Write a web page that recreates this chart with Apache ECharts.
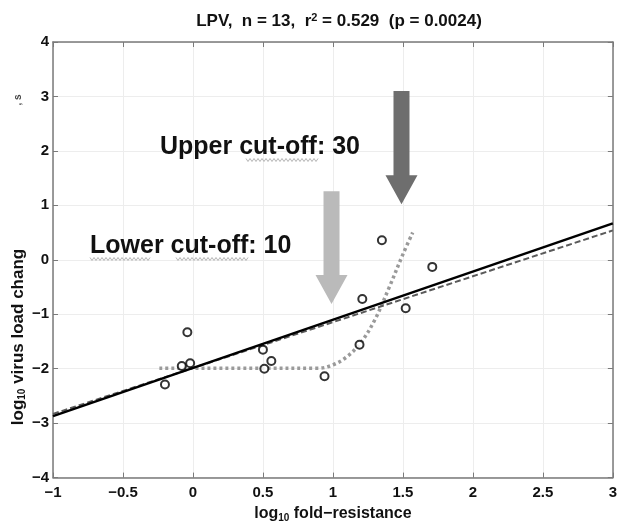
<!DOCTYPE html>
<html>
<head>
<meta charset="utf-8">
<title>LPV fold-resistance vs virus load change</title>
<script src="https://cdn.jsdelivr.net/npm/echarts@6/dist/echarts.min.js"></script>
<style>
  html, body { margin: 0; padding: 0; background: #ffffff; }
  #chart { width: 620px; height: 528px; }
</style>
</head>
<body>
<div id="chart"></div>
<script>
// Observed isolates: log10 fold-resistance vs log10 virus load change
const foldResistance = [-0.20, -0.04, -0.08, -0.02, 0.50, 0.56, 0.51, 0.94, 1.19, 1.21, 1.52, 1.35, 1.71];
const loadChange     = [-2.29, -1.33, -1.95, -1.90, -1.65, -1.86, -2.00, -2.14, -1.56, -0.72, -0.89, 0.36, -0.13];

// Linear fits (end points across the axis range)
const fitX      = [-1, 3];
const fitSolid  = [-2.87, 0.67];
const fitDashed = [-2.83, 0.54];

// Cut-off (threshold) response curve
const curveX = [-0.24, 0.00, 0.50, 0.90, 1.00, 1.10, 1.20, 1.30, 1.40, 1.50, 1.57];
const curveY = [-1.99, -1.99, -1.99, -1.99, -1.93, -1.78, -1.52, -1.10, -0.52, 0.10, 0.50];

// Cut-off markers: x position, arrow top, arrow tip (data units)
const upperArrow = [1.49, 3.10, 1.02];
const lowerArrow = [0.99, 1.26, -0.81];

const xTicks = { min: -1, max: 3, interval: 0.5 };
const yTicks = { min: -4, max: 4, interval: 1 };

const zip = (a, b) => a.map((v, i) => [v, b[i]]);
const minus = v => String(v).replace('-', '\u2212');

const font = 'Liberation Sans, Arial, Helvetica, sans-serif';
const axisGrey = '#7a7a7a';

function arrowItem(params, api) {
  const top = api.coord([api.value(0), api.value(1)]);
  const tip = api.coord([api.value(0), api.value(2)]);
  const shaftHalf = 8, headHalf = 16, headLen = 29;
  const x = tip[0];
  const neck = tip[1] - headLen;
  return {
    type: 'polygon',
    shape: {
      points: [
        [x - shaftHalf, top[1]], [x + shaftHalf, top[1]],
        [x + shaftHalf, neck], [x + headHalf, neck],
        [x, tip[1]],
        [x - headHalf, neck], [x - shaftHalf, neck]
      ]
    },
    style: { fill: api.value(3) === 1 ? '#6e6e6e' : '#bababa' }
  };
}

// Wavy spell-check style underline beneath a word
function squiggle(x0, x1, y) {
  const pts = [];
  for (let x = x0, k = 0; x <= x1; x += 2, k++) pts.push([x, y + (k % 2 ? 1.5 : -1.5)]);
  return {
    type: 'polyline', z: 99, silent: true,
    shape: { points: pts },
    style: { stroke: '#b5b5b5', lineWidth: 1, fill: null }
  };
}

const chart = echarts.init(document.getElementById('chart'), null, { renderer: 'canvas' });

chart.setOption({
  backgroundColor: '#ffffff',
  animation: false,
  title: {
    text: 'LPV,  n = 13,  r{sup|2} = 0.529  (p = 0.0024)',
    left: 334,
    top: 7,
    textAlign: 'center',
    textStyle: {
      fontFamily: font,
      fontSize: 17,
      fontWeight: 'bold',
      color: '#111',
      rich: {
        sup: { fontSize: 11, fontWeight: 'bold', color: '#111', verticalAlign: 'top', padding: [0, 0, 8, 0] }
      }
    }
  },
  grid: { left: 53, right: 5, top: 42, bottom: 44 },
  xAxis: [{
    type: 'value',
    min: xTicks.min, max: xTicks.max, interval: xTicks.interval,
    name: 'log{sub|10} fold\u2212resistance',
    nameLocation: 'middle',
    nameGap: 23,
    nameTextStyle: {
      fontFamily: font, fontSize: 16, fontWeight: 'bold', color: '#111',
      rich: { sub: { fontSize: 10, fontWeight: 'bold', color: '#111', verticalAlign: 'bottom', padding: [9, 0, 0, 0] } }
    },
    axisLine: { show: true, onZero: false, lineStyle: { color: axisGrey, width: 1.5 } },
    axisTick: { show: true, inside: true, length: 5, lineStyle: { color: axisGrey } },
    axisLabel: { formatter: minus, margin: 8, fontFamily: font, fontSize: 15, fontWeight: 'bold', color: '#111' },
    splitLine: { show: true, lineStyle: { color: '#ededed', width: 1 } }
  }, {
    type: 'value', position: 'top',
    min: xTicks.min, max: xTicks.max, interval: xTicks.interval,
    axisLine: { show: true, onZero: false, lineStyle: { color: axisGrey, width: 1.5 } },
    axisTick: { show: true, inside: true, length: 5, lineStyle: { color: axisGrey } },
    axisLabel: { show: false },
    splitLine: { show: false }
  }],
  yAxis: [{
    type: 'value',
    min: yTicks.min, max: yTicks.max, interval: yTicks.interval,
    axisLine: { show: true, onZero: false, lineStyle: { color: axisGrey, width: 1.5 } },
    axisTick: { show: true, inside: true, length: 5, lineStyle: { color: axisGrey } },
    axisLabel: { formatter: minus, margin: 4, fontFamily: font, fontSize: 15, fontWeight: 'bold', color: '#111' },
    splitLine: { show: true, lineStyle: { color: '#ededed', width: 1 } }
  }, {
    type: 'value', position: 'right',
    min: yTicks.min, max: yTicks.max, interval: yTicks.interval,
    axisLine: { show: true, onZero: false, lineStyle: { color: axisGrey, width: 1.5 } },
    axisTick: { show: true, inside: true, length: 5, lineStyle: { color: axisGrey } },
    axisLabel: { show: false },
    splitLine: { show: false }
  }],
  series: [
    {
      name: 'cut-off markers',
      type: 'custom',
      renderItem: arrowItem,
      data: [[...upperArrow, 1], [...lowerArrow, 0]],
      z: 1,
      silent: true
    },
    {
      name: 'threshold curve',
      type: 'line',
      data: zip(curveX, curveY),
      smooth: 0.35,
      showSymbol: false,
      lineStyle: { color: '#9a9a9a', width: 3.5, type: [3, 3], cap: 'butt' },
      z: 2
    },
    {
      name: 'fit (dashed)',
      type: 'line',
      data: zip(fitX, fitDashed),
      showSymbol: false,
      lineStyle: { color: '#5a5a5a', width: 2, type: [6, 3] },
      z: 3
    },
    {
      name: 'fit',
      type: 'line',
      data: zip(fitX, fitSolid),
      showSymbol: false,
      lineStyle: { color: '#000000', width: 2.5 },
      z: 4
    },
    {
      name: 'isolates',
      type: 'scatter',
      data: zip(foldResistance, loadChange),
      symbol: 'circle',
      symbolSize: 8,
      itemStyle: { color: '#ffffff', borderColor: '#000000', borderWidth: 2 },
      z: 5
    }
  ],
  graphic: [
    {
      type: 'text', z: 100,
      x: 18, y: 337,
      rotation: Math.PI / 2,
      style: {
        text: 'log{sub|10} virus load chang',
        align: 'center', verticalAlign: 'middle',
        fontFamily: font, fontSize: 17, fontWeight: 'bold', fill: '#111',
        rich: { sub: { fontSize: 10, fontWeight: 'bold', fill: '#111', verticalAlign: 'bottom', padding: [9, 0, 0, 0] } }
      }
    },
    {
      type: 'text', z: 100,
      x: 18, y: 100,
      rotation: Math.PI / 2,
      style: { text: ', s', align: 'center', verticalAlign: 'middle', fontFamily: font, fontSize: 10, fontWeight: 'bold', fill: '#444' }
    },
    {
      type: 'text', z: 100,
      x: 160, y: 147,
      style: { text: 'Upper cut-off: 30', verticalAlign: 'middle', fontFamily: font, fontSize: 25, fontWeight: 'bold', fill: '#111' }
    },
    {
      type: 'text', z: 100,
      x: 90, y: 246,
      style: { text: 'Lower cut-off: 10', verticalAlign: 'middle', fontFamily: font, fontSize: 25, fontWeight: 'bold', fill: '#111' }
    },
    squiggle(246, 318, 160),
    squiggle(176, 248, 259),
    squiggle(90, 150, 259)
  ]
});
</script>
</body>
</html>
